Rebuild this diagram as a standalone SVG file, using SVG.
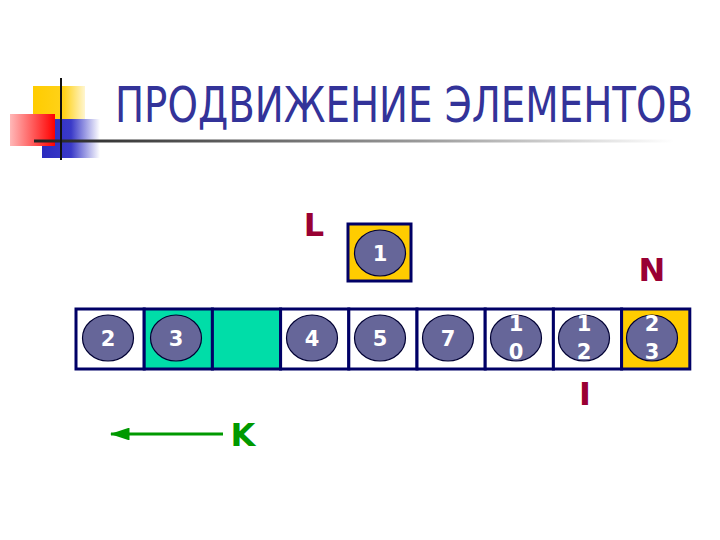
<svg xmlns="http://www.w3.org/2000/svg" width="720" height="540" viewBox="0 0 720 540">
<defs>
<linearGradient id="gY" x1="0" y1="0" x2="1" y2="0"><stop offset="0" stop-color="#FFCC00"/><stop offset="0.6" stop-color="#FFD21A"/><stop offset="1" stop-color="#FFF6D0"/></linearGradient>
<linearGradient id="gR" x1="0" y1="0" x2="1" y2="0"><stop offset="0" stop-color="#FFB8B8"/><stop offset="1" stop-color="#FF0000"/></linearGradient>
<linearGradient id="gB" x1="0" y1="0" x2="1" y2="0"><stop offset="0" stop-color="#2B2BBF"/><stop offset="0.5" stop-color="#3A3AC8"/><stop offset="1" stop-color="#FFFFFF"/></linearGradient>
<linearGradient id="gL" x1="0" y1="0" x2="1" y2="0"><stop offset="0" stop-color="#222222"/><stop offset="0.6" stop-color="#999999"/><stop offset="1" stop-color="#FFFFFF"/></linearGradient>
<marker id="arr" viewBox="0 0 20 13" refX="19" refY="6.5" markerWidth="6.5" markerHeight="4.3" orient="auto" markerUnits="strokeWidth" preserveAspectRatio="none"><path d="M0,0 L20,6.5 L0,13 z" fill="#009900"/></marker>
</defs>
<style>
.cell{stroke:#000066;stroke-width:3}
.ball{fill:#666699;stroke:#000033;stroke-width:1.2}
.num{font-family:"DejaVu Sans",Verdana,sans-serif;font-weight:bold;font-size:21px;fill:#FFFFFF;text-anchor:middle}
.lbl{font-family:"DejaVu Sans",Verdana,sans-serif;font-weight:bold;font-size:32px;fill:#990033;text-anchor:middle}
</style>
<g id="decor">
<rect x="33" y="86" width="52" height="33" fill="url(#gY)"/>
<rect x="42" y="119" width="58" height="39" fill="url(#gB)"/>
<rect x="10" y="114" width="45" height="32" fill="url(#gR)"/>
<rect x="34" y="139.5" width="640" height="3" fill="url(#gL)"/>
<rect x="60" y="78" width="2" height="82" fill="#111111"/>
</g>
<text transform="translate(115,122) scale(1,1.136)" x="0" y="0" font-family="'DejaVu Sans Condensed','Liberation Sans',sans-serif" font-size="44" fill="#333399" textLength="578" lengthAdjust="spacingAndGlyphs">ПРОДВИЖЕНИЕ ЭЛЕМЕНТОВ</text>
<g id="array">
<rect class="cell" x="76" y="309" width="68.2" height="60" fill="#FFFFFF"/>
<rect class="cell" x="144.2" y="309" width="68.2" height="60" fill="#00DDA8"/>
<rect class="cell" x="212.4" y="309" width="68.2" height="60" fill="#00DDA8"/>
<rect class="cell" x="280.6" y="309" width="68.2" height="60" fill="#FFFFFF"/>
<rect class="cell" x="348.8" y="309" width="68.2" height="60" fill="#FFFFFF"/>
<rect class="cell" x="417" y="309" width="68.2" height="60" fill="#FFFFFF"/>
<rect class="cell" x="485.2" y="309" width="68.2" height="60" fill="#FFFFFF"/>
<rect class="cell" x="553.4" y="309" width="68.2" height="60" fill="#FFFFFF"/>
<rect class="cell" x="621.6" y="309" width="68.2" height="60" fill="#FFCC00"/>
</g>
<g id="e2"><ellipse class="ball" cx="108" cy="338" rx="25.5" ry="23"/><text class="num" x="108" y="346">2</text></g>
<g id="e3"><ellipse class="ball" cx="176" cy="338" rx="25.5" ry="23"/><text class="num" x="176" y="346">3</text></g>
<g id="e4"><ellipse class="ball" cx="312" cy="338" rx="25.5" ry="23"/><text class="num" x="312" y="346">4</text></g>
<g id="e5"><ellipse class="ball" cx="380" cy="338" rx="25.5" ry="23"/><text class="num" x="380" y="346">5</text></g>
<g id="e7"><ellipse class="ball" cx="448" cy="338" rx="25.5" ry="23"/><text class="num" x="448" y="346">7</text></g>
<g id="e10"><ellipse class="ball" cx="516" cy="338" rx="25.5" ry="23"/><text class="num" x="516" y="331">1</text><text class="num" x="516" y="359">0</text></g>
<g id="e12"><ellipse class="ball" cx="584" cy="338" rx="25.5" ry="23"/><text class="num" x="584" y="331">1</text><text class="num" x="584" y="359">2</text></g>
<g id="e23"><ellipse class="ball" cx="652" cy="338" rx="25.5" ry="23"/><text class="num" x="652" y="331">2</text><text class="num" x="652" y="359">3</text></g>
<g id="e1">
<rect class="cell" x="348" y="224" width="63" height="57" fill="#FFCC00"/>
<ellipse class="ball" cx="380" cy="253" rx="25.5" ry="23"/><text class="num" x="380" y="261">1</text>
</g>
<g id="labels">
<text class="lbl" x="314" y="236">L</text>
<text class="lbl" x="652" y="281">N</text>
<text class="lbl" x="585" y="405">I</text>
<text class="lbl" x="243" y="446" style="fill:#009900">K</text>
</g>
<g id="connectors">
<line x1="223" y1="434" x2="111" y2="434" stroke="#009900" stroke-width="3" marker-end="url(#arr)"/>
</g>
</svg>
